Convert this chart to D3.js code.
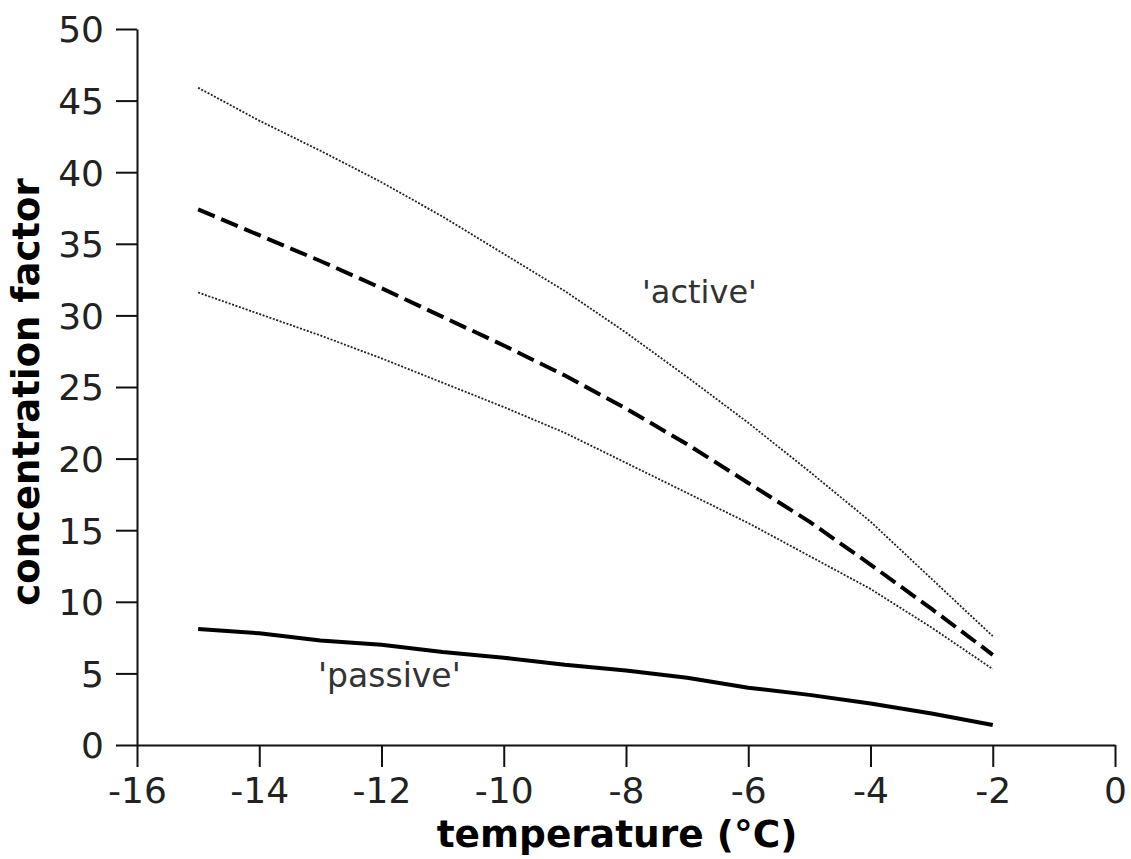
<!DOCTYPE html>
<html>
<head>
<meta charset="utf-8">
<script src="https://cdn.jsdelivr.net/npm/d3@7"></script>
<style>
  html, body { margin: 0; padding: 0; background: #fff; }
  svg { display: block; font-family: "DejaVu Sans", sans-serif; }
</style>
</head>
<body>
<div id="chart"></div>
<script>
// Data
const temps = [-15, -14, -13, -12, -11, -10, -9, -8, -7, -6, -5, -4, -3, -2];
const activeUpper = [45.9, 43.6, 41.5, 39.3, 36.9, 34.3, 31.7, 28.8, 25.7, 22.5, 19.1, 15.6, 11.6, 7.6];
const activeMean  = [37.4, 35.6, 33.8, 31.9, 29.9, 27.9, 25.8, 23.5, 21.0, 18.3, 15.6, 12.6, 9.5, 6.3];
const activeLower = [31.6, 30.1, 28.6, 27.0, 25.3, 23.6, 21.8, 19.7, 17.6, 15.5, 13.2, 10.9, 8.2, 5.3];
const passive     = [8.1, 7.8, 7.3, 7.0, 6.5, 6.1, 5.6, 5.2, 4.7, 4.0, 3.5, 2.9, 2.2, 1.4];

const xTicks = [-16, -14, -12, -10, -8, -6, -4, -2, 0];
const yTicks = [0, 5, 10, 15, 20, 25, 30, 35, 40, 45, 50];

const width = 1131, height = 859;
const margin = { top: 29, right: 16, bottom: 114, left: 137 };

const svg = d3.select('#chart')
    .append('svg')
    .attr('width', width)
    .attr('height', height);

const x = d3.scaleLinear()
    .domain([-16, 0])
    .range([margin.left, width - margin.right]);

const y = d3.scaleLinear()
    .domain([0, 50])
    .range([height - margin.bottom, margin.top]);

// Axes (plain hyphen for negatives, like the original)
const fmt = d => String(d);

const xAxis = svg.append('g')
    .attr('transform', `translate(0,${y(0)})`)
    .call(d3.axisBottom(x).tickValues(xTicks).tickFormat(fmt)
        .tickSize(22).tickPadding(10).tickSizeOuter(0));

const yAxis = svg.append('g')
    .attr('transform', `translate(${x(-16)},0)`)
    .call(d3.axisLeft(y).tickValues(yTicks).tickFormat(fmt)
        .tickSize(21).tickPadding(12).tickSizeOuter(0));

[xAxis, yAxis].forEach(g => {
    g.select('.domain').attr('stroke', '#111').attr('stroke-width', 2);
    g.selectAll('.tick line').attr('stroke', '#111').attr('stroke-width', 2);
    g.selectAll('.tick text')
        .attr('fill', '#222')
        .attr('font-family', '"DejaVu Sans", sans-serif')
        .attr('font-size', '36px');
});
xAxis.selectAll('.tick text').attr('dy', '0.71em').attr('y', 32);
yAxis.selectAll('.tick text').attr('dy', '0.36em');

// Axis titles
svg.append('text')
    .attr('x', 617)
    .attr('y', 847)
    .attr('text-anchor', 'middle')
    .attr('font-weight', 'bold')
    .attr('font-size', '37.5px')
    .attr('fill', '#000')
    .text('temperature (°C)');

svg.append('text')
    .attr('transform', 'translate(39,392) rotate(-90)')
    .attr('text-anchor', 'middle')
    .attr('font-weight', 'bold')
    .attr('font-size', '37px')
    .attr('fill', '#000')
    .text('concentration factor');

// Lines
const line = d3.line()
    .x(d => x(d[0]))
    .y(d => y(d[1]));

const series = [
    { values: activeUpper, width: 1.8, dash: '2,1.6', color: '#222' },
    { values: activeLower, width: 1.8, dash: '2,1.6', color: '#222' },
    { values: activeMean, width: 4, dash: '18,7', color: '#000' },
    { values: passive, width: 4, dash: null, color: '#000' }
];

svg.append('g')
    .attr('class', 'lines')
    .selectAll('path')
    .data(series)
    .enter()
    .append('path')
    .attr('d', s => line(temps.map((t, i) => [t, s.values[i]])))
    .attr('fill', 'none')
    .attr('stroke', s => s.color)
    .attr('stroke-width', s => s.width)
    .attr('stroke-dasharray', s => s.dash)
    .attr('stroke-linejoin', 'round');

// Labels
svg.append('text')
    .attr('x', 642)
    .attr('y', 303)
    .attr('font-size', '32px')
    .attr('fill', '#333')
    .text("'active'");

svg.append('text')
    .attr('x', 318)
    .attr('y', 687)
    .attr('font-size', '33px')
    .attr('fill', '#333')
    .text("'passive'");
</script>
</body>
</html>
